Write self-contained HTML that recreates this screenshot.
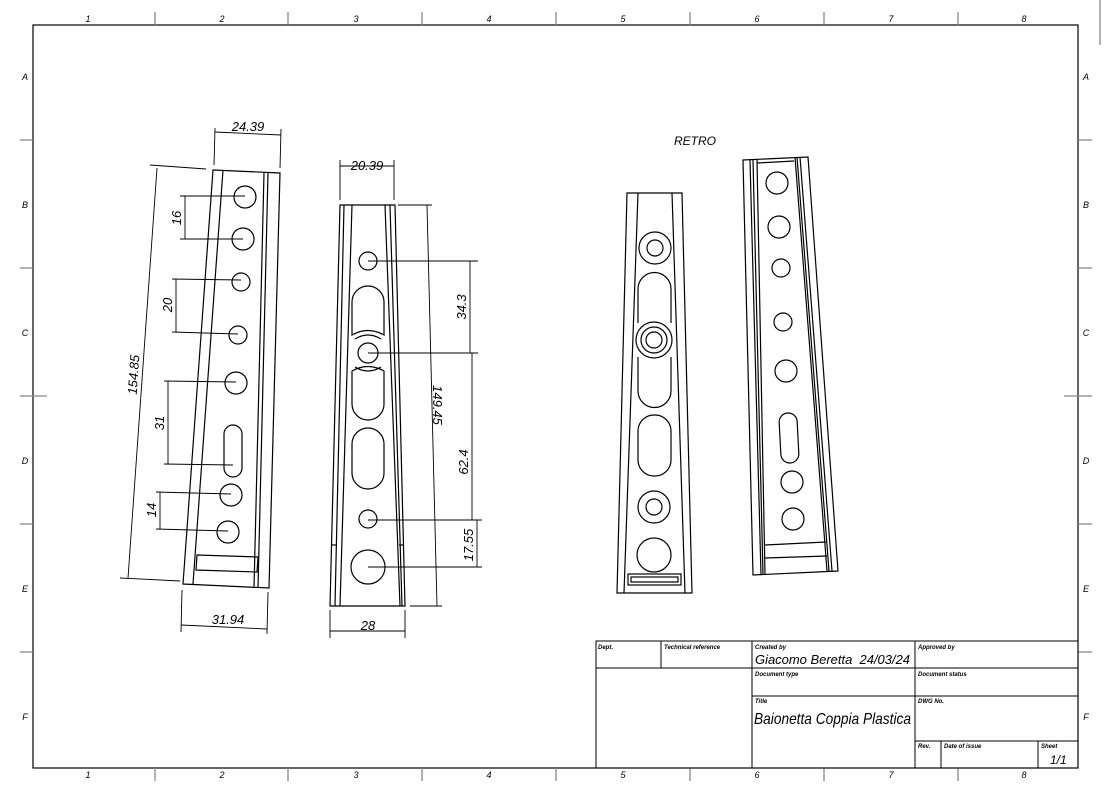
<!DOCTYPE html>
<html><head><meta charset="utf-8"><style>
html,body{margin:0;padding:0;background:#fff}
svg{display:block}
text{font-family:"Liberation Sans",sans-serif;font-style:italic;fill:#000}
</style></head><body>
<svg width="1107" height="787" viewBox="0 0 1107 787" xmlns="http://www.w3.org/2000/svg">
<g fill="none" stroke="#000" stroke-width="1.2">
<rect x="33" y="25" width="1045" height="743"/>
</g>
<g stroke="#888" stroke-width="1.3">
<line x1="155" y1="12" x2="155" y2="25"/><line x1="288" y1="12" x2="288" y2="25"/><line x1="422" y1="12" x2="422" y2="25"/><line x1="556" y1="12" x2="556" y2="25"/><line x1="690" y1="12" x2="690" y2="25"/><line x1="824" y1="12" x2="824" y2="25"/><line x1="958" y1="12" x2="958" y2="25"/>
<line x1="155" y1="768" x2="155" y2="781"/><line x1="288" y1="768" x2="288" y2="781"/><line x1="422" y1="768" x2="422" y2="781"/><line x1="556" y1="768" x2="556" y2="781"/><line x1="690" y1="768" x2="690" y2="781"/><line x1="824" y1="768" x2="824" y2="781"/><line x1="958" y1="768" x2="958" y2="781"/>
<line x1="20" y1="140" x2="33" y2="140"/><line x1="20" y1="268" x2="33" y2="268"/><line x1="20" y1="396" x2="47" y2="396"/><line x1="20" y1="524" x2="33" y2="524"/><line x1="20" y1="652" x2="33" y2="652"/>
<line x1="1078" y1="140" x2="1092" y2="140"/><line x1="1078" y1="268" x2="1092" y2="268"/><line x1="1064" y1="396" x2="1092" y2="396"/><line x1="1078" y1="524" x2="1092" y2="524"/><line x1="1078" y1="652" x2="1092" y2="652"/>
<line x1="1100" y1="0" x2="1100" y2="45"/>
</g>
<g font-size="9" text-anchor="middle">
<text x="88" y="22">1</text><text x="222" y="22">2</text><text x="356" y="22">3</text><text x="489" y="22">4</text><text x="623" y="22">5</text><text x="757" y="22">6</text><text x="891" y="22">7</text><text x="1024" y="22">8</text>
<text x="88" y="778">1</text><text x="222" y="778">2</text><text x="356" y="778">3</text><text x="489" y="778">4</text><text x="623" y="778">5</text><text x="757" y="778">6</text><text x="891" y="778">7</text><text x="1024" y="778">8</text>
<text x="25" y="80">A</text><text x="25" y="208">B</text><text x="25" y="336">C</text><text x="25" y="464">D</text><text x="25" y="592">E</text><text x="25" y="720">F</text>
<text x="1086" y="80">A</text><text x="1086" y="208">B</text><text x="1086" y="336">C</text><text x="1086" y="464">D</text><text x="1086" y="592">E</text><text x="1086" y="720">F</text>
</g>

<!-- Part 1 -->
<g fill="none" stroke="#000" stroke-width="1.2">
<polygon points="213,170 280,173 269,588 183,584"/>
<line x1="223" y1="170" x2="193" y2="584"/>
<line x1="268" y1="173" x2="258" y2="588"/>
<line x1="264" y1="173" x2="254" y2="588"/>
<polygon points="197,555 258,557 257,572 196,570"/>
<circle cx="245" cy="197" r="11"/><circle cx="243" cy="239" r="11"/>
<circle cx="241" cy="282" r="9"/><circle cx="238" cy="335" r="9"/>
<circle cx="236" cy="383" r="11"/>
<rect x="224" y="425" width="18" height="52" rx="9"/>
<circle cx="231" cy="495" r="11"/><circle cx="228" cy="532" r="11"/>
</g>
<g fill="none" stroke="#000" stroke-width="0.9">
<line x1="180" y1="196" x2="245" y2="196"/><line x1="180" y1="239" x2="243" y2="239"/><line x1="185" y1="196" x2="185" y2="239"/>
<line x1="172" y1="279" x2="241" y2="280"/><line x1="172" y1="332" x2="238" y2="334"/><line x1="176" y1="279" x2="176" y2="332"/>
<line x1="164" y1="381" x2="236" y2="382"/><line x1="164" y1="464" x2="233" y2="465"/><line x1="168" y1="381" x2="168" y2="464"/>
<line x1="156" y1="492" x2="231" y2="494"/><line x1="156" y1="529" x2="228" y2="531"/><line x1="160" y1="492" x2="160" y2="529"/>
<line x1="150" y1="165" x2="206" y2="169"/><line x1="120" y1="578" x2="180" y2="581"/><line x1="157" y1="168" x2="128" y2="578"/>
<line x1="215" y1="128" x2="214" y2="165"/><line x1="281" y1="129" x2="280" y2="168"/><line x1="215" y1="132" x2="281" y2="135"/>
<line x1="182" y1="590" x2="181" y2="632"/><line x1="268" y1="592" x2="267" y2="634"/><line x1="181" y1="625" x2="267" y2="629"/>
</g>
<g font-size="13">
<text x="248" y="131" text-anchor="middle">24.39</text>
<text x="228" y="624" text-anchor="middle">31.94</text>
<text transform="translate(181,218) rotate(-90)" text-anchor="middle">16</text>
<text transform="translate(172,305) rotate(-90)" text-anchor="middle">20</text>
<text transform="translate(164,423) rotate(-90)" text-anchor="middle">31</text>
<text transform="translate(156,510) rotate(-90)" text-anchor="middle">14</text>
<text transform="translate(138,375) rotate(-86)" text-anchor="middle">154.85</text>
</g>

<!-- Part 2 -->
<g fill="none" stroke="#000" stroke-width="1.2">
<polygon points="340,205 395,205 405,606 330,606"/>
<line x1="344" y1="205" x2="335" y2="606"/><line x1="352" y1="205" x2="340" y2="606"/>
<line x1="385" y1="205" x2="400" y2="606"/><line x1="390" y1="205" x2="402" y2="606"/>
<line x1="331" y1="545" x2="336" y2="545"/><line x1="399" y1="545" x2="404" y2="545"/>
<circle cx="368" cy="261" r="9"/>
<path d="M352,302 A16,16 0 0 1 384,302 L384,335 Q368,326 352,335 Z"/>
<path d="M355,339 Q368,331 381,339"/>
<circle cx="368" cy="353" r="10"/>
<path d="M355,367 Q368,375 381,367"/>
<path d="M352,371 Q368,362 384,371 L384,404 A16,16 0 0 1 352,404 Z"/>
<rect x="352" y="428" width="32" height="61" rx="16"/>
<circle cx="368" cy="519" r="9"/>
<circle cx="368" cy="567" r="17"/>
</g>
<g fill="none" stroke="#000" stroke-width="0.9">
<line x1="340" y1="160" x2="340" y2="200"/><line x1="394" y1="160" x2="394" y2="200"/><line x1="340" y1="166" x2="394" y2="166"/>
<line x1="330" y1="610" x2="330" y2="638"/><line x1="405" y1="610" x2="405" y2="638"/><line x1="330" y1="631" x2="405" y2="631"/>
<line x1="398" y1="205" x2="432" y2="205"/><line x1="410" y1="606" x2="442" y2="606"/><line x1="427" y1="205" x2="437" y2="606"/>
<line x1="368" y1="261" x2="478" y2="261"/><line x1="368" y1="353" x2="478" y2="353"/><line x1="368" y1="520" x2="482" y2="520"/><line x1="368" y1="567" x2="482" y2="567"/>
<line x1="470" y1="261" x2="470" y2="353"/><line x1="472" y1="353" x2="472" y2="520"/><line x1="477" y1="520" x2="477" y2="567"/>
</g>
<g font-size="13">
<text x="367" y="170" text-anchor="middle">20.39</text>
<text x="368" y="630" text-anchor="middle">28</text>
<text transform="translate(433,405) rotate(90)" text-anchor="middle">149.45</text>
<text transform="translate(466,307) rotate(-90)" text-anchor="middle">34.3</text>
<text transform="translate(468,462) rotate(-90)" text-anchor="middle">62.4</text>
<text transform="translate(473,545) rotate(-90)" text-anchor="middle">17.55</text>
<text x="695" y="145" text-anchor="middle" font-size="12">RETRO</text>
</g>

<!-- Part 3 -->
<g fill="none" stroke="#000" stroke-width="1.2">
<polygon points="627,193 682,193 692,593 617,593"/>
<line x1="638" y1="193" x2="624" y2="593"/><line x1="672" y1="193" x2="685" y2="593"/>
<circle cx="655" cy="248" r="16"/><circle cx="655" cy="248" r="8"/>
<path d="M638,323 L638,289 A16,16 0 0 1 671,289 L671,323"/>
<circle cx="654" cy="340" r="18"/><circle cx="654" cy="340" r="13"/><circle cx="654" cy="340" r="8"/>
<path d="M638,357 L638,391 A16,16 0 0 0 671,391 L671,357"/>
<rect x="638" y="415" width="33" height="61" rx="16"/>
<circle cx="654" cy="507" r="16"/><circle cx="654" cy="507" r="8"/>
<circle cx="654" cy="555" r="17"/>
<rect x="628" y="574" width="53" height="11"/><rect x="631" y="577" width="47" height="5"/>
</g>

<!-- Part 4 -->
<g fill="none" stroke="#000" stroke-width="1.2">
<polygon points="743,160 808,157 838,571 753,575"/>
<line x1="750" y1="160" x2="761" y2="575"/><line x1="757" y1="160" x2="765" y2="575"/><line x1="753" y1="160" x2="763" y2="575"/>
<line x1="795" y1="157" x2="827" y2="571"/><line x1="800" y1="157" x2="832" y2="571"/><line x1="797" y1="157" x2="829" y2="571"/>
<line x1="757" y1="163" x2="794" y2="161"/>
<line x1="765" y1="545" x2="826" y2="542"/><line x1="765" y1="558" x2="827" y2="556"/>
<circle cx="777" cy="183" r="11"/><circle cx="779" cy="227" r="11"/>
<circle cx="781" cy="268" r="9"/><circle cx="783" cy="322" r="9"/>
<circle cx="786" cy="371" r="11"/>
<rect x="780" y="413" width="18" height="50" rx="9" transform="rotate(-3 789 438)"/>
<circle cx="792" cy="482" r="11"/><circle cx="793" cy="519" r="11"/>
</g>

<!-- Title block -->
<g fill="none" stroke="#000" stroke-width="1">
<rect x="596" y="641" width="482" height="127"/>
<line x1="596" y1="668" x2="1078" y2="668"/>
<line x1="752" y1="696" x2="1078" y2="696"/>
<line x1="915" y1="741" x2="1078" y2="741"/>
<line x1="661" y1="641" x2="661" y2="668"/>
<line x1="752" y1="641" x2="752" y2="768"/>
<line x1="915" y1="641" x2="915" y2="768"/>
<line x1="941" y1="741" x2="941" y2="768"/>
<line x1="1038" y1="741" x2="1038" y2="768"/>
</g>
<g font-size="6" font-weight="bold">
<text x="598" y="649">Dept.</text>
<text x="664" y="649">Technical reference</text>
<text x="755" y="649">Created by</text>
<text x="918" y="649">Approved by</text>
<text x="755" y="676">Document type</text>
<text x="918" y="676">Document status</text>
<text x="755" y="703">Title</text>
<text x="918" y="703">DWG No.</text>
<text x="918" y="748">Rev.</text>
<text x="944" y="748">Date of issue</text>
<text x="1041" y="748">Sheet</text>
</g>
<text x="755" y="664" font-size="13" textLength="155" lengthAdjust="spacingAndGlyphs">Giacomo Beretta&#160;&#160;24/03/24</text>
<text x="754" y="724" font-size="16" textLength="157" lengthAdjust="spacingAndGlyphs">Baionetta Coppia Plastica</text>
<text x="1050" y="764" font-size="12">1/1</text>
</svg>
</body></html>
